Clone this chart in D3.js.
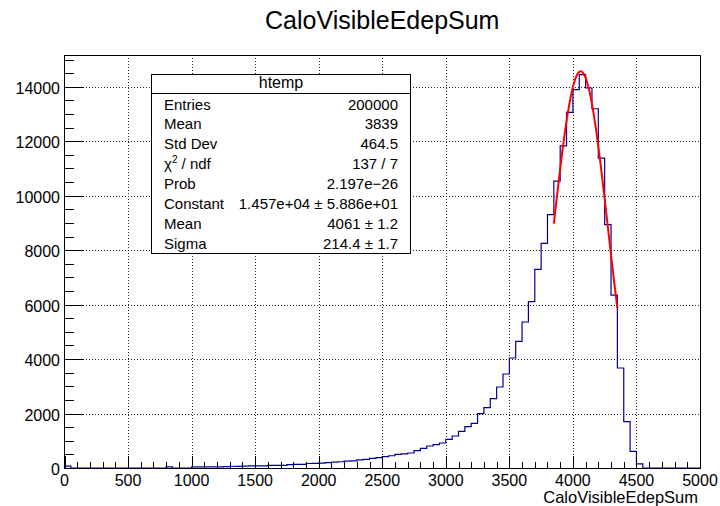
<!DOCTYPE html>
<html>
<head>
<meta charset="utf-8">
<script src="https://cdn.jsdelivr.net/npm/d3@7"></script>
<style>
    body { margin: 0; background: #fff; }
    svg { display: block; font-family: "Liberation Sans", Arial, Helvetica, sans-serif; }
</style>
</head>
<body>
<svg width="720" height="506"></svg>
<script>
// histogram: 100 bins of width 50 from 0 to 5000
var binLow = 0, binWidth = 50;
var binCounts = [
    70, 0, 0, 0, 0, 0, 0, 0, 0, 0,
    0, 0, 0, 0, 0, 0, 40, 0, 0, 0,
    40, 40, 45, 40, 45, 50, 65, 60, 70, 75,
    80, 80, 95, 100, 95, 125, 130, 135, 165, 170,
    180, 195, 215, 230, 250, 265, 300, 315, 355, 380,
    420, 450, 500, 520, 551, 636, 722, 808, 857, 918,
    1053, 1175, 1347, 1518, 1640, 1995, 2215, 2546, 2975, 3452,
    4040, 4652, 5362, 6108, 7295, 8251, 9305, 10534, 11833, 13059,
    13894, 14446, 13956, 13195, 11380, 8936, 6350, 3673, 1700, 607,
    154, 0, 0, 0, 0, 0, 0, 0, 0, 0
];

// gaus fit: constant, mean, sigma and the fit range
var fitParams = [1.457e4, 4061, 214.4];
var fitRange = [3850, 4350];

var xTicks = d3.range(0, 5001, 500);
var xMinorTicks = d3.range(0, 5001, 100);
var yTicks = d3.range(0, 14001, 2000);
var yMinorTicks = d3.range(0, 15001, 500);

var statsRows = [
    ["Entries", "200000"],
    ["Mean", "3839"],
    ["Std Dev", "464.5"],
    ["chi2", "137 / 7"],
    ["Prob", "2.197e\u221226"],
    ["Constant", "1.457e+04 \u00b1 5.886e+01"],
    ["Mean", "4061 \u00b1 1.2"],
    ["Sigma", "214.4 \u00b1 1.7"]
];

var svg = d3.select("svg"),
    width = +svg.attr("width"),
    height = +svg.attr("height");

var frame = { left: 64.5, right: 700, top: 55, bottom: 468 };

var x = d3.scaleLinear().domain([0, 5000]).range([frame.left, frame.right]);
var y = d3.scaleLinear().domain([0, d3.max(binCounts) * 1.05]).range([frame.bottom, frame.top]);

// dotted grid at major ticks
var grid = svg.append("g")
    .attr("stroke", "#222")
    .attr("stroke-width", 1)
    .attr("stroke-dasharray", "1,2")
    .attr("shape-rendering", "crispEdges");
grid.selectAll(".gx").data(xTicks.filter(d => d > 0 && d < 5000))
    .enter().append("line")
    .attr("x1", d => Math.round(x(d)) + 0.5).attr("x2", d => Math.round(x(d)) + 0.5)
    .attr("y1", frame.top).attr("y2", frame.bottom);
grid.selectAll(".gy").data(yTicks.filter(d => d > 0))
    .enter().append("line")
    .attr("x1", frame.left).attr("x2", frame.right)
    .attr("y1", d => Math.round(y(d)) + 0.5).attr("y2", d => Math.round(y(d)) + 0.5);

// histogram outline
var steps = [[binLow, 0]];
binCounts.forEach(function (c, i) {
    var lo = binLow + i * binWidth;
    steps.push([lo, c]);
    steps.push([lo + binWidth, c]);
});
steps.push([binLow + binCounts.length * binWidth, 0]);

svg.append("path")
    .datum(steps)
    .attr("fill", "none")
    .attr("stroke", "#000099")
    .attr("stroke-width", 1.2)
    .attr("d", d3.line().x(d => x(d[0])).y(d => y(d[1])));

// fitted gaussian
function gaus(v) {
    var t = (v - fitParams[1]) / fitParams[2];
    return fitParams[0] * Math.exp(-0.5 * t * t);
}
var fitPts = d3.range(fitRange[0], fitRange[1] + 0.1, 5).map(v => [v, gaus(v)]);
svg.append("path")
    .datum(fitPts)
    .attr("fill", "none")
    .attr("stroke", "#ff0000")
    .attr("stroke-width", 2)
    .attr("d", d3.line().x(d => x(d[0])).y(d => y(d[1])).curve(d3.curveLinear));

// frame box
svg.append("rect")
    .attr("x", frame.left).attr("y", frame.top + 0.5)
    .attr("width", frame.right - frame.left).attr("height", frame.bottom - frame.top)
    .attr("fill", "none")
    .attr("stroke", "#000")
    .attr("shape-rendering", "crispEdges");

// axis ticks, drawn inward from the frame
var ticks = svg.append("g").attr("stroke", "#000").attr("shape-rendering", "crispEdges");
ticks.selectAll(".tx").data(xMinorTicks)
    .enter().append("line")
    .attr("x1", d => Math.round(x(d)) + 0.5).attr("x2", d => Math.round(x(d)) + 0.5)
    .attr("y1", frame.bottom)
    .attr("y2", d => frame.bottom - (d % 500 === 0 ? 12.5 : 6.3));
ticks.selectAll(".ty").data(yMinorTicks.filter(d => y(d) >= frame.top))
    .enter().append("line")
    .attr("x1", frame.left)
    .attr("x2", d => frame.left + (d % 2000 === 0 ? 19 : 9.5))
    .attr("y1", d => Math.round(y(d)) + 0.5).attr("y2", d => Math.round(y(d)) + 0.5);

// tick labels
svg.append("g").selectAll("text").data(xTicks)
    .enter().append("text")
    .attr("x", d => x(d))
    .attr("y", 486)
    .attr("text-anchor", "middle")
    .attr("font-size", 16)
    .text(d => d);
svg.append("g").selectAll("text").data(yTicks)
    .enter().append("text")
    .attr("x", 60)
    .attr("y", d => y(d) + 7)
    .attr("text-anchor", "end")
    .attr("font-size", 16)
    .text(d => d);

// titles
svg.append("text")
    .attr("x", (frame.left + frame.right) / 2)
    .attr("y", 29)
    .attr("text-anchor", "middle")
    .attr("font-size", 25)
    .text("CaloVisibleEdepSum");
svg.append("text")
    .attr("x", 698)
    .attr("y", 503)
    .attr("text-anchor", "end")
    .attr("font-size", 16.5)
    .text("CaloVisibleEdepSum");

// stats box
var box = { x: 151.5, y: 74.5, w: 259, h: 179, head: 19 };
var stats = svg.append("g");
stats.append("rect")
    .attr("x", box.x).attr("y", box.y)
    .attr("width", box.w).attr("height", box.h)
    .attr("fill", "#fff").attr("stroke", "#000");
stats.append("line")
    .attr("x1", box.x).attr("x2", box.x + box.w)
    .attr("y1", box.y + box.head).attr("y2", box.y + box.head)
    .attr("stroke", "#000");
stats.append("text")
    .attr("x", box.x + box.w / 2)
    .attr("y", 87.5)
    .attr("text-anchor", "middle")
    .attr("font-size", 16)
    .text("htemp");

var rows = stats.selectAll(".row").data(statsRows)
    .enter().append("g")
    .attr("transform", (d, i) => "translate(0," + (109.5 + i * 19.9) + ")");
rows.append("text")
    .attr("x", 164)
    .attr("font-size", 15)
    .each(function (d) {
        var t = d3.select(this);
        if (d[0] === "chi2") {
            t.append("tspan").text("\u03c7");
            t.append("tspan").attr("font-size", 10).attr("dy", -6).text("2");
            t.append("tspan").attr("dy", 6).text(" / ndf");
        } else {
            t.text(d[0]);
        }
    });
rows.append("text")
    .attr("x", 398)
    .attr("text-anchor", "end")
    .attr("font-size", 15)
    .text(d => d[1]);
</script>
</body>
</html>
